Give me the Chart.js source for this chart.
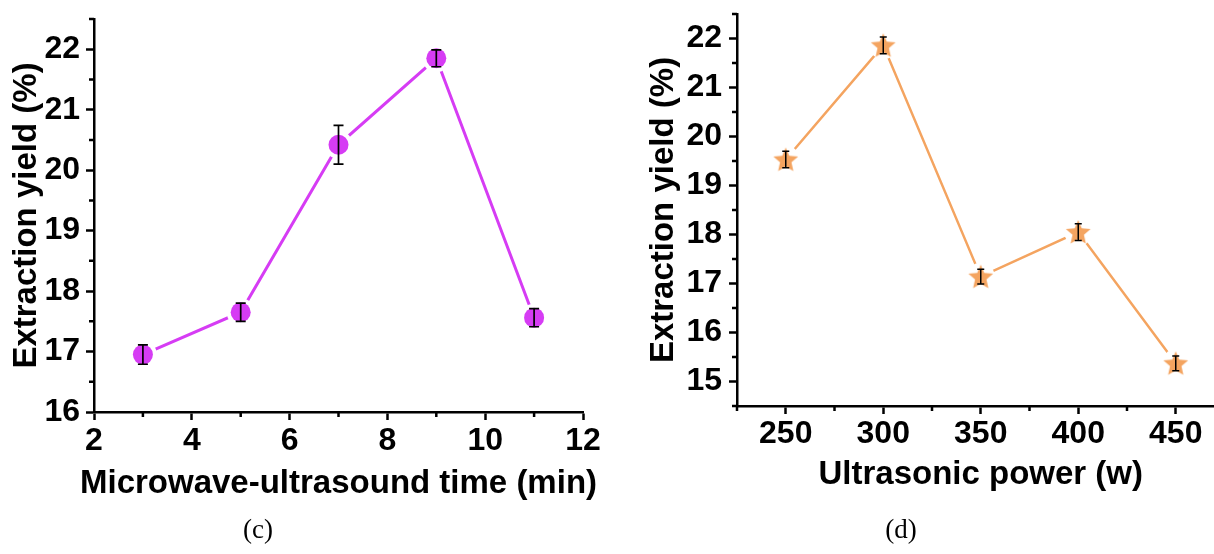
<!DOCTYPE html>
<html>
<head>
<meta charset="utf-8">
<script src="https://cdn.jsdelivr.net/npm/chart.js@4.4.1/dist/chart.umd.min.js"></script>
<style>
  html, body { margin: 0; padding: 0; background: #fff; overflow: hidden; }
  #wrap { position: relative; width: 1214px; height: 554px; overflow: hidden; }
  canvas { position: absolute; top: 0; }
  #timeChart { left: 0; }
  #powerChart { left: 620px; }
  .cap { position: absolute; top: 516px; font: 27px/1 "Liberation Serif", serif; transform: translateX(-50%); color: #000; }
</style>
</head>
<body>
<div id="wrap">
  <canvas id="timeChart" width="610" height="554"></canvas>
  <canvas id="powerChart" width="620" height="554"></canvas>
  <div class="cap" style="left:258px">(c)</div>
  <div class="cap" style="left:901px">(d)</div>
</div>
<script>
// panel (c): microwave-ultrasound time
const times = [3, 5, 7, 9, 11];
const yieldByTime = [16.95, 17.65, 20.42, 21.85, 17.56];
const errByTime = [0.16, 0.15, 0.32, 0.14, 0.15];
const timeTicks = [2, 4, 6, 8, 10, 12];
const timeMinor = [3, 5, 7, 9, 11];
const yieldTicksC = [16, 17, 18, 19, 20, 21, 22];
const yieldMinorC = [16.5, 17.5, 18.5, 19.5, 20.5, 21.5, 22.5];

// panel (d): ultrasonic power
const powers = [250, 300, 350, 400, 450];
const yieldByPower = [19.53, 21.86, 17.14, 18.05, 15.37];
const errByPower = [0.17, 0.17, 0.15, 0.17, 0.15];
const powerTicks = [250, 300, 350, 400, 450];
const powerMinor = [225, 275, 325, 375, 425, 475];
const yieldTicksD = [15, 16, 17, 18, 19, 20, 21, 22];
const yieldMinorD = [14.5, 15.5, 16.5, 17.5, 18.5, 19.5, 20.5, 21.5, 22.5];

const FONT = '"Liberation Sans", Arial, sans-serif';
const purple = "#d63cf4";
const orange = "#f4a460";

const errorBars = (xs, ys, err, half, width) => ({
  id: "errorBars",
  afterDatasetsDraw(chart) {
    const { ctx, scales: { x, y } } = chart;
    ctx.save();
    ctx.strokeStyle = "#000";
    ctx.lineWidth = width;
    xs.forEach((v, i) => {
      const px = x.getPixelForValue(v),
        top = y.getPixelForValue(ys[i] + err[i]),
        bot = y.getPixelForValue(ys[i] - err[i]);
      ctx.beginPath();
      ctx.moveTo(px, top); ctx.lineTo(px, bot);
      ctx.moveTo(px - half, top); ctx.lineTo(px + half, top);
      ctx.moveTo(px - half, bot); ctx.lineTo(px + half, bot);
      ctx.stroke();
    });
    ctx.restore();
  },
});

const minorTicks = (xMinor, yMinor) => ({
  id: "minorTicks",
  afterDraw(chart) {
    const { ctx, chartArea: a, scales: { x, y } } = chart;
    ctx.save();
    ctx.strokeStyle = "#000";
    ctx.lineWidth = 2.5;
    ctx.beginPath();
    xMinor.forEach((v) => {
      const px = x.getPixelForValue(v);
      ctx.moveTo(px, a.bottom); ctx.lineTo(px, a.bottom + 5);
    });
    yMinor.forEach((v) => {
      const py = y.getPixelForValue(v);
      ctx.moveTo(a.left, py); ctx.lineTo(a.left - 5, py);
    });
    ctx.stroke();
    ctx.restore();
  },
});

// x-axis title drawn by hand so it is not squeezed to the plot width
const xTitle = (text, size, y) => ({
  id: "xTitle",
  afterDraw(chart) {
    const { ctx, chartArea: a } = chart;
    ctx.save();
    ctx.font = `bold ${size}px ${FONT}`;
    ctx.fillStyle = "#000";
    ctx.textAlign = "center";
    ctx.textBaseline = "middle";
    ctx.fillText(text, (a.left + a.right) / 2, y);
    ctx.restore();
  },
});

const starMark = (() => {
  const c = document.createElement("canvas");
  c.width = c.height = 30;
  const g = c.getContext("2d");
  g.beginPath();
  for (let k = 0; k < 10; k++) {
    const r = k % 2 ? 6 : 13, ang = -Math.PI / 2 + (k * Math.PI) / 5;
    g.lineTo(15 + r * Math.cos(ang), 16 + r * Math.sin(ang));
  }
  g.closePath();
  g.fillStyle = orange;
  g.fill();
  return c;
})();

const axis = (o) => ({
  type: "linear",
  min: o.min,
  max: o.max,
  afterBuildTicks: (s) => { s.ticks = o.ticks.map((v) => ({ value: v })); },
  afterFit: o.fit,
  border: { color: "#000", width: 2.5 },
  grid: { drawOnChartArea: false, tickColor: "#000", tickLength: 8, tickWidth: 2.5 },
  ticks: { color: "#000", padding: o.pad, maxRotation: 0, autoSkip: false, font: { family: FONT, size: 32, weight: "bold" } },
  title: o.title
    ? { display: true, text: o.title, color: "#000", font: { family: FONT, size: 33, weight: "bold" }, padding: o.titlePad }
    : { display: false },
});

const common = {
  responsive: false,
  animation: false,
  events: [],
  plugins: { legend: { display: false }, tooltip: { enabled: false } },
};

const timePts = times.map((t, i) => ({ x: t, y: yieldByTime[i] }));
new Chart(document.getElementById("timeChart"), {
  type: "line",
  data: {
    datasets: [
      { data: timePts, borderColor: purple, borderWidth: 3, pointRadius: 0, order: 3 },
      { data: timePts, showLine: false, pointRadius: 14, pointBackgroundColor: "#fff", pointBorderWidth: 0, order: 2 },
      { data: timePts, showLine: false, pointRadius: 10, pointBackgroundColor: purple, pointBorderWidth: 0, order: 1 },
    ],
  },
  options: {
    ...common,
    layout: { padding: { left: 0, top: 19, right: 27, bottom: 0 } },
    scales: {
      x: axis({ min: 2, max: 12, ticks: timeTicks, pad: 2,
        fit: (s) => { s.height = 142; s.paddingLeft = 0; s.paddingRight = 0; } }),
      y: axis({ min: 16, max: 22.5, ticks: yieldTicksC, pad: 6, title: "Extraction yield (%)",
        titlePad: { top: 7, bottom: 0 },
        fit: (s) => { s.width = 94; s.paddingTop = 0; s.paddingBottom = 0; } }),
    },
  },
  plugins: [
    errorBars(times, yieldByTime, errByTime, 5, 1.7),
    minorTicks(timeMinor, yieldMinorC),
    xTitle("Microwave-ultrasound time (min)", 33, 484),
  ],
});

const powerPts = powers.map((p, i) => ({ x: p, y: yieldByPower[i] }));
new Chart(document.getElementById("powerChart"), {
  type: "line",
  data: {
    datasets: [
      { data: powerPts, borderColor: orange, borderWidth: 2.5, pointRadius: 0, order: 3 },
      { data: powerPts, showLine: false, pointRadius: 14, pointBackgroundColor: "#fff", pointBorderWidth: 0, order: 2 },
      { data: powerPts, showLine: false, pointStyle: starMark, order: 1 },
    ],
  },
  options: {
    ...common,
    layout: { padding: { left: 0, top: 13, right: 15.5, bottom: 0 } },
    scales: {
      x: axis({ min: 225, max: 475, ticks: powerTicks, pad: 1,
        fit: (s) => { s.height = 148; s.paddingLeft = 0; s.paddingRight = 0; } }),
      y: axis({ min: 14.5, max: 22.5, ticks: yieldTicksD, pad: 7, title: "Extraction yield (%)",
        titlePad: { top: 24, bottom: 0 },
        fit: (s) => { s.width = 117; s.paddingTop = 0; s.paddingBottom = 0; } }),
    },
  },
  plugins: [
    errorBars(powers, yieldByPower, errByPower, 3.5, 1.5),
    minorTicks(powerMinor, yieldMinorD),
    xTitle("Ultrasonic power (w)", 33, 475),
  ],
});
</script>
</body>
</html>
